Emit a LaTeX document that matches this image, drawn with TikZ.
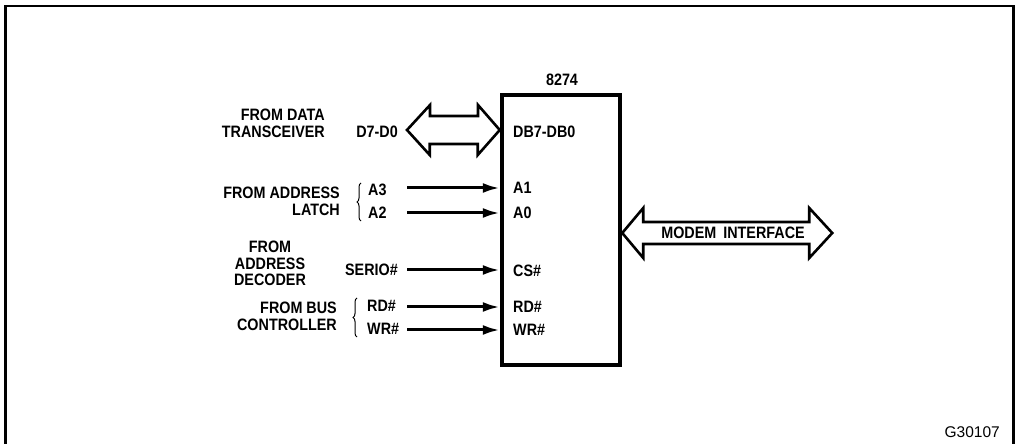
\documentclass[tikz,border=0pt]{standalone}
\usepackage{fontspec}
\setmainfont{Liberation Sans}
\newfontfamily\lblfont{Liberation Sans}[FakeStretch=0.87]
\usetikzlibrary{arrows.meta,decorations.pathreplacing}
\begin{document}
\begin{tikzpicture}[x=1bp,y=-1bp,
  lbl/.style={font=\lblfont\fontsize{16.5bp}{17bp}\selectfont\bfseries, inner sep=0pt, text height=11.8bp, text depth=0pt},
  grp/.style={font=\lblfont\fontsize{16.5bp}{17bp}\selectfont\bfseries, inner sep=0pt},
  sig/.style={line width=3bp, -{Latex[length=17bp,width=10bp]}},
  bus/.style={line width=2.6bp, line join=miter, fill=white},
  brc/.style={line width=1bp, decorate, decoration={brace, amplitude=4bp}}]
\useasboundingbox (0,0) rectangle (1016,444);
% frame
\draw[line width=2.5bp] (5.5,444) -- (5.5,6) -- (1013.5,6) -- (1013.5,444);
% chip
\node[draw, line width=4.5bp, minimum width=118bp, minimum height=270bp, inner sep=0pt] (chip) at (561,230) {};
\node[lbl] (title) at (562,80) {8274};
\node[lbl, anchor=west] (pdb) at (513,132) {DB7-DB0};
\node[lbl, anchor=west] (pa1) at (513,188) {A1};
\node[lbl, anchor=west] (pa0) at (513,213) {A0};
\node[lbl, anchor=west] (pcs) at (513,271) {CS\#};
\node[lbl, anchor=west] (prd) at (513,307) {RD\#};
\node[lbl, anchor=west] (pwr) at (513,330) {WR\#};
% data bus double arrow
\coordinate (dl) at (407,130);
\coordinate (dr) at (chip.west |- dl);
\draw[bus] (dl) -- ++(23,-25) -- ++(0,11) -- ++(48,0) -- ++(0,-11) -- (dr) -- ++(-22,25) -- ++(0,-11) -- ++(-48,0) -- ++(0,11) -- cycle;
% modem double arrow
\coordinate (ml) at (chip.east |- 0,233);
\draw[bus] (ml) -- ++(21,-25) -- ++(0,14) -- ++(166,0) -- ++(0,-14) -- ++(23,25) -- ++(-23,25) -- ++(0,-14) -- ++(-166,0) -- ++(0,14) -- cycle;
\node[lbl] (modem) at (733,233) {MODEM \hspace{3bp}INTERFACE};
% signal labels
\node[lbl, anchor=east] (d70) at (398,132) {D7-D0};
\node[lbl, anchor=west] (a3) at (368,190) {A3};
\node[lbl, anchor=west] (a2) at (368,213) {A2};
\node[lbl, anchor=east] (serio) at (398,270) {SERIO\#};
\node[lbl, anchor=west] (rd) at (367,306) {RD\#};
\node[lbl, anchor=west] (wr) at (367,329) {WR\#};
% signal arrows
\coordinate (s1) at (407,188);
\coordinate (s2) at (407,213);
\coordinate (s3) at (407,270);
\coordinate (s4) at (407,307);
\coordinate (s5) at (407,330);
\draw[sig] (s1) -- (chip.west |- s1);
\draw[sig] (s2) -- (chip.west |- s2);
\draw[sig] (s3) -- (chip.west |- s3);
\draw[sig] (s4) -- (chip.west |- s4);
\draw[sig] (s5) -- (chip.west |- s5);
% braces
\draw[brc] (361,221) -- (361,183);
\draw[brc] (357,337) -- (357,298);
% group labels
\node[grp, align=right, anchor=north east] (gdata) at (325,109) {FROM DATA\\TRANSCEIVER};
\node[grp, align=right, anchor=north east] (glatch) at (340,187) {FROM ADDRESS\\LATCH};
\node[grp, align=center, anchor=north, font=\lblfont\fontsize{16.5bp}{16.5bp}\selectfont\bfseries] (gdec) at (270,241) {FROM\\ADDRESS\\DECODER};
\node[grp, align=right, anchor=north east] (gbus) at (337,302) {FROM BUS\\CONTROLLER};
% figure id
\node[inner sep=0pt, text height=11bp, text depth=0pt, font=\fontsize{15.5bp}{17bp}\selectfont, anchor=east] (fig) at (1000,432) {G30107};
\end{tikzpicture}
\end{document}
